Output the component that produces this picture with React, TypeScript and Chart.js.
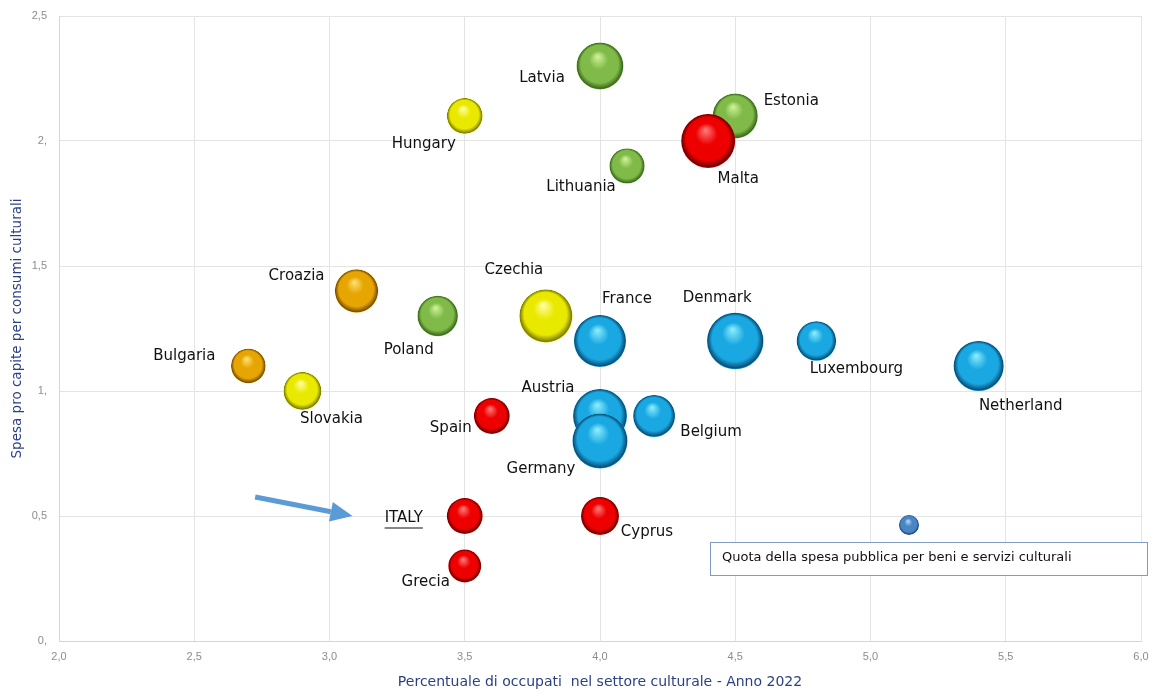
import React, { useEffect, useRef } from "react";
import { Chart, registerables, BubbleController } from "chart.js";
Chart.register(...registerables);

// Bubble controller that does not enlarge the layout padding by the bubble radius
class FlatBubbleController extends (BubbleController as any) {
  static id = "flatBubble";
  static defaults = (BubbleController as any).defaults;
  static overrides = (BubbleController as any).overrides;
  getMaxOverflow() {
    return false;
  }
}
Chart.register(FlatBubbleController as any);

// ---- data ----
const countries = ["Latvia", "Hungary", "Lithuania", "Estonia", "Malta", "Croazia", "Poland", "Czechia", "France", "Denmark", "Luxembourg", "Netherland", "Bulgaria", "Slovakia", "Spain", "Austria", "Belgium", "Germany", "ITALY", "Cyprus", "Grecia"];
const occupati = [4.0, 3.5, 4.1, 4.5, 4.4, 3.1, 3.4, 3.8, 4.0, 4.5, 4.8, 5.4, 2.7, 2.9, 3.6, 4.0, 4.2, 4.0, 3.5, 4.0, 3.5];
const spesa = [2.3, 2.1, 1.9, 2.1, 2.0, 1.4, 1.3, 1.3, 1.2, 1.2, 1.2, 1.1, 1.1, 1.0, 0.9, 0.9, 0.9, 0.8, 0.5, 0.5, 0.3];
const quota = [5.5, 3.2, 3.1, 5.1, 7.3, 4.7, 4.1, 7.1, 6.8, 8.0, 3.9, 6.3, 3.0, 3.6, 3.2, 7.3, 4.4, 7.6, 3.2, 3.6, 2.7];
const groups = ["green", "yellow", "green", "green", "red", "orange", "green", "yellow", "blue", "blue", "blue", "blue", "orange", "yellow", "red", "blue", "blue", "blue", "red", "red", "red"];
const xTickLabels = ["2,0", "2,5", "3,0", "3,5", "4,0", "4,5", "5,0", "5,5", "6,0"];
const yTickLabels = ["0,", "0,5", "1,", "1,5", "2,", "2,5"];
const xTitle = "Percentuale di occupati  nel settore culturale - Anno 2022";
const yTitle = "Spesa pro capite per consumi culturali";
const legendText = "Quota della spesa pubblica per beni e servizi culturali";

// ---- styling / layout ----
const palette: Record<string, [string, string, string]> = {
  green: ["#d2f59a", "#80bb4a", "#3c6a1c"],
  red: ["#ff8080", "#ee0000", "#6e0000"],
  yellow: ["#ffffa8", "#e9e900", "#7d7d00"],
  orange: ["#ffe27a", "#e6a500", "#7a4f00"],
  blue: ["#8ff0ff", "#1aa8e2", "#0a4f78"],
  steel: ["#bcdcff", "#4a86c5", "#1d416b"],
};
const labelOffsets: [number, number][] = [
  [-58, 12], [-41, 28], [-46, 21], [56, -15], [30, 38], [-60, -15], [-29, 34], [-32, -46],
  [27, -42], [-18, -43], [40, 28], [42, 40], [-64, -10], [29, 28], [-41, 12], [-52, -28],
  [57, 16], [-59, 28], [-61, 2], [47, 16], [-39, 16],
];
const arrowFrom = { x: 2.725, y: 0.576 };
const arrowTo = { x: 3.085, y: 0.5 };
const labelFont = '15px "DejaVu Sans"';

const radius = (q: number) => 10 * Math.sqrt(q);

function sphere(ctx: CanvasRenderingContext2D, cx: number, cy: number, r: number, key: string) {
  const [light, base, dark] = palette[key];
  const g = ctx.createRadialGradient(cx - 0.1 * r, cy - 0.42 * r, 0, cx, cy, r);
  g.addColorStop(0, light);
  g.addColorStop(0.4, base);
  g.addColorStop(0.8, base);
  g.addColorStop(0.97, dark);
  g.addColorStop(1, base);
  return g;
}

const overlay = {
  id: "overlay",
  afterDatasetsDraw(chart: any) {
    const ctx: CanvasRenderingContext2D = chart.ctx;
    const xs = chart.scales.x;
    const ys = chart.scales.y;
    ctx.save();
    ctx.font = labelFont;
    ctx.fillStyle = "#111";
    ctx.textAlign = "center";
    ctx.textBaseline = "middle";
    countries.forEach((c, i) => {
      const px = xs.getPixelForValue(occupati[i]) + labelOffsets[i][0];
      const py = ys.getPixelForValue(spesa[i]) + labelOffsets[i][1];
      ctx.fillText(c, px, py);
      if (c === "ITALY") {
        const w = ctx.measureText(c).width;
        ctx.strokeStyle = "#111";
        ctx.lineWidth = 1.2;
        ctx.beginPath();
        ctx.moveTo(px - w / 2, py + 10);
        ctx.lineTo(px + w / 2, py + 10);
        ctx.stroke();
      }
    });
    // arrow
    const ax0 = xs.getPixelForValue(arrowFrom.x), ay0 = ys.getPixelForValue(arrowFrom.y);
    const ax1 = xs.getPixelForValue(arrowTo.x), ay1 = ys.getPixelForValue(arrowTo.y);
    const ang = Math.atan2(ay1 - ay0, ax1 - ax0);
    const head = 22;
    const bx = ax1 - head * Math.cos(ang), by = ay1 - head * Math.sin(ang);
    ctx.strokeStyle = "#5b9bd5";
    ctx.fillStyle = "#5b9bd5";
    ctx.lineWidth = 5;
    ctx.beginPath();
    ctx.moveTo(ax0, ay0);
    ctx.lineTo(bx, by);
    ctx.stroke();
    ctx.beginPath();
    ctx.moveTo(ax1, ay1);
    ctx.lineTo(bx + 10 * Math.sin(ang), by - 10 * Math.cos(ang));
    ctx.lineTo(bx - 10 * Math.sin(ang), by + 10 * Math.cos(ang));
    ctx.closePath();
    ctx.fill();
    // legend
    ctx.fillStyle = "#fff";
    ctx.fillRect(710, 542, 437, 33);
    ctx.strokeStyle = "#7f9cc4";
    ctx.lineWidth = 1;
    ctx.strokeRect(710.5, 542.5, 437, 33);
    ctx.fillStyle = "#111";
    ctx.textAlign = "left";
    ctx.font = '13px "DejaVu Sans"';
    ctx.fillText(legendText, 722, 558);
    const lx = 909, ly = 525, lr = 10;
    ctx.fillStyle = sphere(ctx, lx, ly, lr, "steel");
    ctx.beginPath();
    ctx.arc(lx, ly, lr, 0, Math.PI * 2);
    ctx.fill();
    ctx.restore();
  },
};

export default function App() {
  const ref = useRef<HTMLCanvasElement>(null);
  useEffect(() => {
    if (!ref.current) return;
    const chart = new Chart(ref.current, {
      type: "flatBubble" as any,
      data: {
        datasets: [
          {
            label: legendText,
            data: countries.map((_, i) => ({ x: occupati[i], y: spesa[i], r: radius(quota[i]) })),
            borderWidth: 0,
            clip: false as any,
            backgroundColor: (c: any) => {
              const i = c.dataIndex;
              const key = groups[i] || "blue";
              const xs = c.chart.scales && c.chart.scales.x;
              const ys = c.chart.scales && c.chart.scales.y;
              if (i === undefined || !xs || !ys) return palette[key][1];
              const cx = xs.getPixelForValue(occupati[i]);
              const cy = ys.getPixelForValue(spesa[i]);
              if (!Number.isFinite(cx) || !Number.isFinite(cy)) return palette[key][1];
              return sphere(c.chart.ctx, cx, cy, radius(quota[i]), key);
            },
          },
        ],
      },
      options: {
        responsive: false,
        animation: false,
        events: [],
        layout: { padding: { top: 16, right: 13, left: 0, bottom: 0 } },
        plugins: { legend: { display: false }, tooltip: { enabled: false } },
        scales: {
          x: {
            type: "linear",
            position: "bottom",
            min: 2,
            max: 6,
            afterFit: (s: any) => { s.height = 54; s.paddingLeft = 0; s.paddingRight = 0; },
            grid: { color: "#e4e4e4", drawTicks: false },
            border: { color: "#d6d6d6" },
            ticks: {
              stepSize: 0.5,
              padding: 9,
              color: "#8c8c8c",
              font: { family: "Liberation Sans", size: 11 },
              callback: (v: any) => xTickLabels[Math.round((Number(v) - 2) * 2)] ?? "",
            },
            title: {
              display: true,
              text: xTitle,
              color: "#2b3f86",
              font: { family: "DejaVu Sans", size: 14 },
              padding: { top: 0, bottom: 4 },
            },
          },
          y: {
            type: "linear",
            position: "left",
            min: 0,
            max: 2.5,
            afterFit: (s: any) => { s.width = 59; s.paddingTop = 0; s.paddingBottom = 0; },
            grid: { color: "#e4e4e4", drawTicks: false },
            border: { color: "#d6d6d6" },
            ticks: {
              stepSize: 0.5,
              padding: 12,
              color: "#8c8c8c",
              font: { family: "Liberation Sans", size: 11 },
              callback: (v: any) => yTickLabels[Math.round(Number(v) * 2)] ?? "",
            },
            title: {
              display: true,
              text: yTitle,
              color: "#2b3f86",
              font: { family: "DejaVu Sans", size: 13.5 },
              padding: { top: 9, bottom: 0 },
            },
          },
        },
      },
      plugins: [overlay],
    });
    return () => chart.destroy();
  }, []);
  return (
    <div style={{ position: "absolute", left: 0, top: 0, width: 1154, height: 695, background: "#fff" }}>
      <canvas ref={ref} width={1154} height={695} />
    </div>
  );
}
